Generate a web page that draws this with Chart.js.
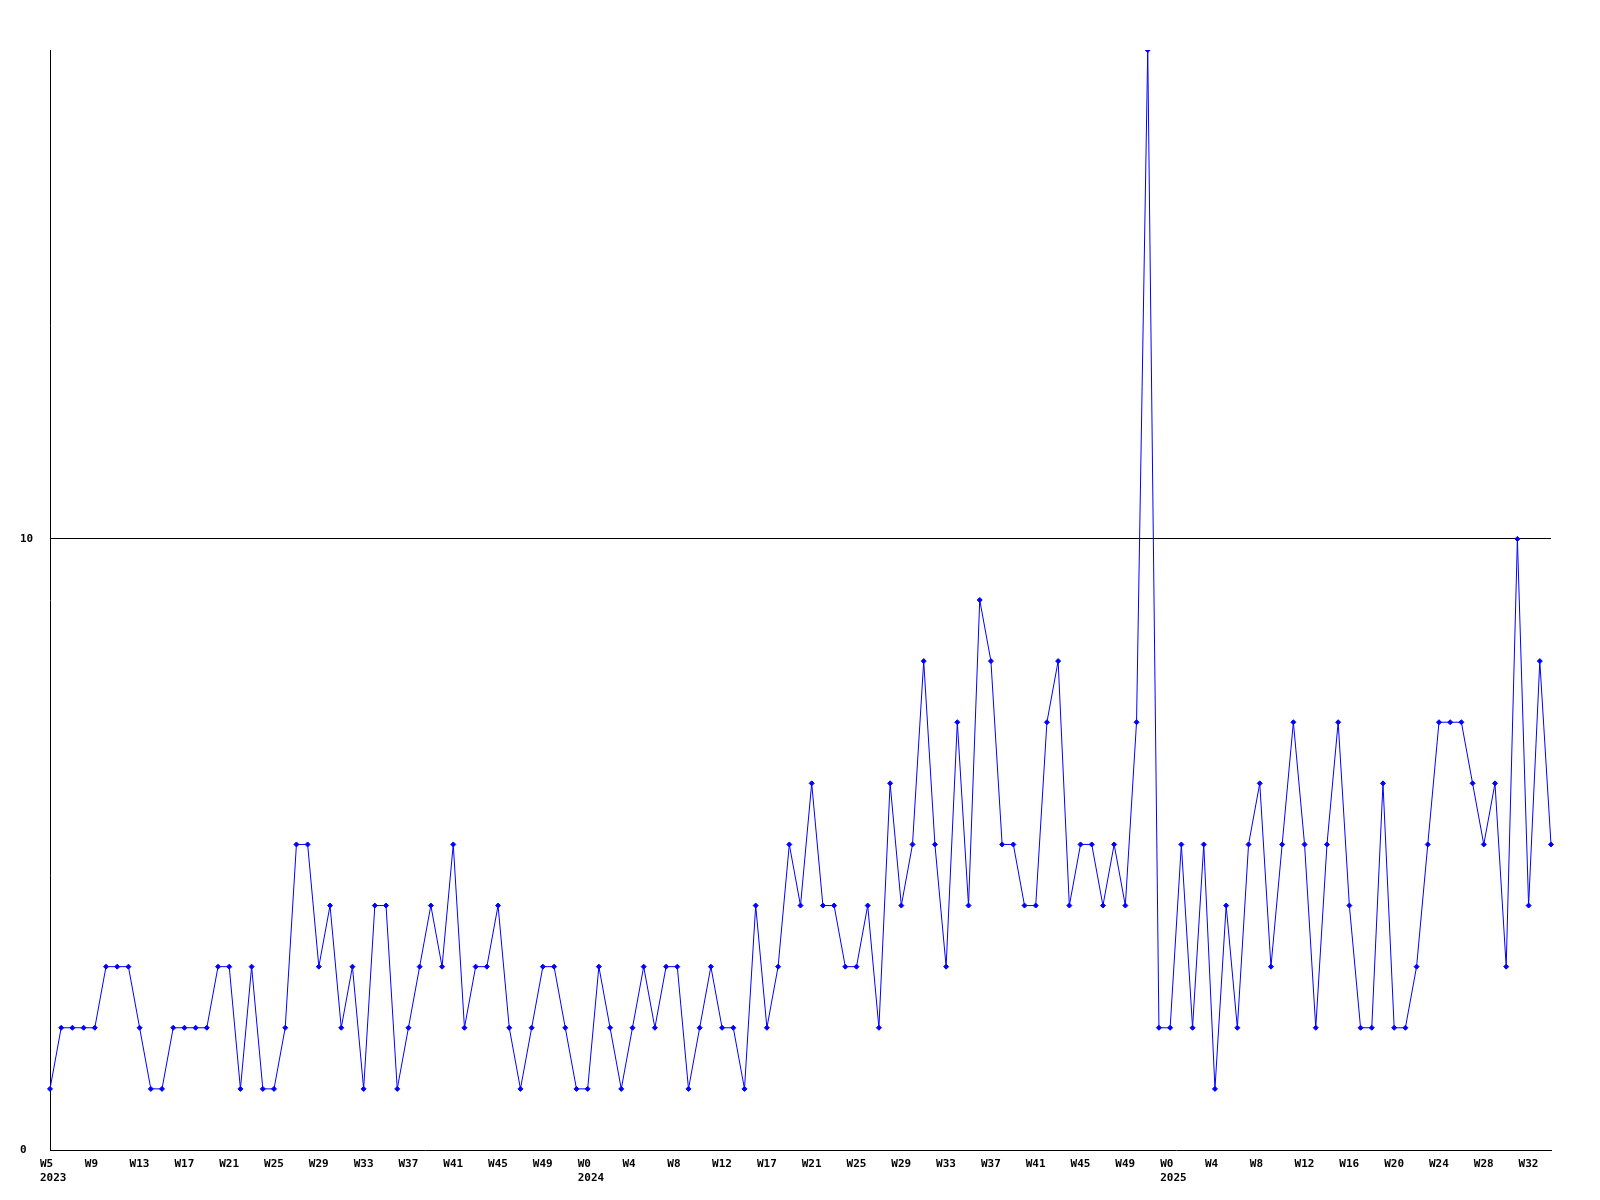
<!DOCTYPE html>
<html>
<head>
<meta charset="utf-8">
<script src="https://cdn.jsdelivr.net/npm/chart.js@4"></script>
<style>
  html, body { margin: 0; padding: 0; background: #ffffff; }
  #wrap { width: 1600px; height: 1200px; }
</style>
</head>
<body>
<div id="wrap"><canvas id="c" width="1600" height="1200"></canvas></div>
<script>
// Week categories per year
const weeks2023 = ['W5','W6','W7','W8','W9','W10','W11','W12','W13','W14','W15','W16','W17','W18','W19','W20',
  'W21','W22','W23','W24','W25','W26','W27','W28','W29','W30','W31','W32','W33','W34','W35','W36',
  'W37','W38','W39','W40','W41','W42','W43','W44','W45','W46','W47','W48','W49','W50','W51','W52'];
const weeks2024 = ['W0','W1','W2','W3','W4','W5','W6','W7','W8','W9','W10','W11','W12','W13','W14','W15',
  'W17','W18','W19','W20','W21','W22','W23','W24','W25','W26','W27','W28','W29','W30','W31','W32',
  'W33','W34','W35','W36','W37','W38','W39','W40','W41','W42','W43','W44','W45','W46','W47','W48',
  'W49','W50','W51','W52'];
const weeks2025 = ['W0','W1','W2','W3','W4','W5','W6','W7','W8','W9','W10','W11','W12','W13','W14','W15',
  'W16','W17','W18','W19','W20','W21','W22','W23','W24','W25','W26','W27','W28','W29','W30','W31',
  'W32','W33','W34'];

// Weekly values
const values2023 = [1,2,2,2,2,3,3,3,2,1,1,2,2,2,2,3,3,1,3,1,1,2,5,5,3,4,2,3,1,4,4,1,
  2,3,4,3,5,2,3,3,4,2,1,2,3,3,2,1];
const values2024 = [1,3,2,1,2,3,2,3,3,1,2,3,2,2,1,4,2,3,5,4,6,4,4,3,3,4,2,6,4,5,8,5,
  3,7,4,9,8,5,5,4,4,7,8,4,5,5,4,5,4,7,18,2];
const values2025 = [2,5,2,5,1,4,2,5,6,3,5,7,5,2,5,7,4,2,2,6,2,2,3,5,7,7,7,6,5,6,3,10,
  4,8,5];

const yTickValues = [0, 10];
const yMax = 18;
const tickEvery = 4;

const labels = [];
const years = [];
[['2023', weeks2023], ['2024', weeks2024], ['2025', weeks2025]].forEach(([y, ws]) => {
  ws.forEach(w => { labels.push(w); years.push(y); });
});
const data = values2023.concat(values2024, values2025);

const font = { family: '"DejaVu Sans Mono", "Liberation Mono", monospace', size: 11, weight: 'bold' };

new Chart(document.getElementById('c'), {
  type: 'line',
  data: {
    labels: labels,
    datasets: [{
      data: data,
      borderColor: '#0000ff',
      borderWidth: 1,
      tension: 0,
      fill: false,
      pointStyle: 'rectRot',
      pointRadius: 2.5,
      pointBackgroundColor: '#0000ff',
      pointBorderColor: '#0000ff',
      pointBorderWidth: 1
    }]
  },
  options: {
    responsive: false,
    devicePixelRatio: 1,
    animation: false,
    layout: { padding: { left: 20, right: 49, top: 50, bottom: 0 } },
    plugins: { legend: { display: false }, tooltip: { enabled: false }, title: { display: false } },
    scales: {
      x: {
        type: 'category',
        offset: false,
        grid: { display: false, drawTicks: false },
        border: { display: true, color: '#000000', width: 1 },
        afterFit: s => { s.height = 50; },
        ticks: {
          color: '#000000',
          font: font,
          autoSkip: false,
          maxRotation: 0,
          minRotation: 0,
          align: 'start',
          labelOffset: -10,
          padding: 8,
          callback: function(val, idx) {
            if (idx % tickEvery !== 0) return null;
            const lab = labels[idx];
            if (idx === 0 || years[idx] !== years[idx - 1]) return [lab, years[idx]];
            return lab;
          }
        }
      },
      y: {
        min: 0,
        max: yMax,
        afterFit: s => { s.width = 30; },
        afterBuildTicks: s => { s.ticks = yTickValues.map(v => ({ value: v })); },
        grid: {
          drawTicks: false,
          color: ctx => (ctx.tick && ctx.tick.value === 10) ? '#000000' : 'rgba(0,0,0,0)',
          lineWidth: 1
        },
        border: { display: true, color: '#000000', width: 1 },
        ticks: {
          color: '#000000',
          font: font,
          crossAlign: 'far',
          padding: 0
        }
      }
    }
  }
});
</script>
</body>
</html>
